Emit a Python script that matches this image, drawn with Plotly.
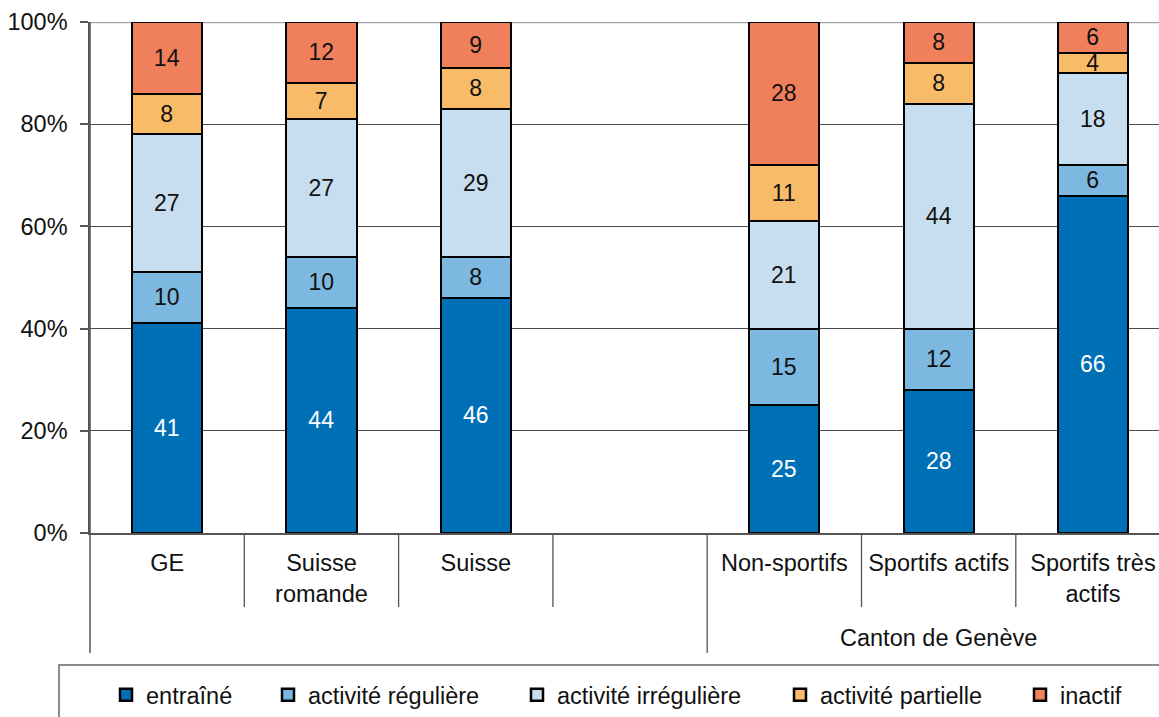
import plotly.graph_objects as go

# Categories along the x axis (the empty slot separates the two groups)
categories = ["GE", "Suisse<br>romande", "Suisse", "",
              "Non-sportifs", "Sportifs actifs", "Sportifs très<br>actifs"]
group_label = "Canton de Genève"
group_members = [4, 5, 6]

# Share of each activity level (%) per category
series_names = ["entraîné", "activité régulière", "activité irrégulière",
                "activité partielle", "inactif"]
entraine = [41, 44, 46, None, 25, 28, 66]
reguliere = [10, 10, 8, None, 15, 12, 6]
irreguliere = [27, 27, 29, None, 21, 44, 18]
partielle = [8, 7, 8, None, 11, 8, 4]
inactif = [14, 12, 9, None, 28, 8, 6]
series_values = [entraine, reguliere, irreguliere, partielle, inactif]

colors = ["#0070b6", "#7db8e0", "#c7ddf0", "#f8bb68", "#f0805c"]
text_colors = ["white", "#111111", "#111111", "#111111", "#111111"]

y_ticks = [0, 20, 40, 60, 80, 100]
y_tick_labels = [f"{v}%" for v in y_ticks]

FONT = "Liberation Sans, Arial, sans-serif"
FS = 23.5

W, H = 1159, 717
ML, MR, MT, MB = 90, 0, 22, 184
plot_w = W - ML - MR
plot_h = H - MT - MB
slot_px = 154.3
x_min = -0.5
x_max = x_min + plot_w / slot_px

x = list(range(len(categories)))


def px_to_paper_x(px):
    return (px - ML) / plot_w


def px_to_paper_y(py):
    return (H - MB - py) / plot_h


def data_to_paper_x(v):
    return (v - x_min) / (x_max - x_min)


fig = go.Figure()

legend_marker_px = [120, 282, 531, 794, 1034]
legend_y = px_to_paper_y(695)

for i, (name, vals) in enumerate(zip(series_names, series_values)):
    lg = "legend" if i == 0 else f"legend{i + 1}"
    fig.add_trace(go.Bar(
        x=x, y=vals, name=name, width=0.455,
        marker=dict(color=colors[i], line=dict(color="#000000", width=2.5)),
        text=[("" if v is None else str(v)) for v in vals],
        textposition="inside", insidetextanchor="middle", textangle=0,
        constraintext="none",
        textfont=dict(family=FONT, size=23, color=text_colors[i]),
        hoverinfo="skip",
        legend=lg,
    ))
    fig.update_layout(**{lg: dict(
        x=px_to_paper_x(legend_marker_px[i] - 14), y=legend_y,
        xanchor="left", yanchor="middle", xref="paper", yref="paper",
        orientation="h", bgcolor="rgba(0,0,0,0)", borderwidth=0,
        font=dict(family=FONT, size=FS, color="#111111"),
        itemwidth=30, tracegroupgap=0,
    )})

shapes = []
axis_color = "#555555"

# Top gridline (100 %) drawn lighter and thicker
shapes.append(dict(type="line", xref="paper", yref="y", x0=0, x1=1, y0=100, y1=100,
                   line=dict(color="#a6a6a6", width=2.5), layer="below"))

# Vertical axis extended down through both label rows
y_bottom_long = px_to_paper_y(653)
y_bottom_short = px_to_paper_y(607)
shapes.append(dict(type="line", xref="paper", yref="paper", x0=0, x1=0,
                   y0=y_bottom_long, y1=1, line=dict(color=axis_color, width=1.5)))

# Category separators below the axis
for k in range(len(categories) - 1):
    b = k + 0.5
    bottom = y_bottom_long if (k + 1) == min(group_members) else y_bottom_short
    shapes.append(dict(type="line", xref="paper", yref="paper",
                       x0=data_to_paper_x(b), x1=data_to_paper_x(b),
                       y0=bottom, y1=0, line=dict(color=axis_color, width=1.3)))

# Legend frame
shapes.append(dict(type="rect", xref="paper", yref="paper",
                   x0=px_to_paper_x(59), x1=px_to_paper_x(W + 20),
                   y0=px_to_paper_y(H + 20), y1=px_to_paper_y(665),
                   line=dict(color="#666666", width=1.5), fillcolor="rgba(0,0,0,0)"))

annotations = [dict(
    text=group_label, xref="paper", yref="paper",
    x=data_to_paper_x(sum(group_members) / len(group_members)),
    y=px_to_paper_y(638), xanchor="center", yanchor="middle", showarrow=False,
    font=dict(family=FONT, size=FS, color="#111111"),
)]

fig.update_layout(
    width=W, height=H,
    margin=dict(l=ML, r=MR, t=MT, b=MB, pad=0),
    paper_bgcolor="white", plot_bgcolor="white",
    barmode="stack", bargap=0,
    showlegend=True,
    shapes=shapes, annotations=annotations,
    font=dict(family=FONT, size=FS, color="#111111"),
    xaxis=dict(
        range=[x_min, x_max], tickmode="array", tickvals=x, ticktext=categories,
        showgrid=False, zeroline=False, showline=True, linecolor=axis_color, linewidth=1.5,
        ticks="", ticklabelstandoff=8,
        tickfont=dict(family=FONT, size=FS, color="#111111"),
    ),
    yaxis=dict(
        range=[0, 100], tickmode="array", tickvals=y_ticks, ticktext=y_tick_labels,
        showgrid=True, gridcolor="#4a4a4a", gridwidth=1,
        zeroline=False, showline=True, linecolor=axis_color, linewidth=1.5,
        ticks="outside", ticklen=8, tickcolor=axis_color, tickwidth=1.5,
        ticklabelstandoff=8,
        tickfont=dict(family=FONT, size=FS, color="#111111"),
    ),
)

fig.write_html("out.html")
